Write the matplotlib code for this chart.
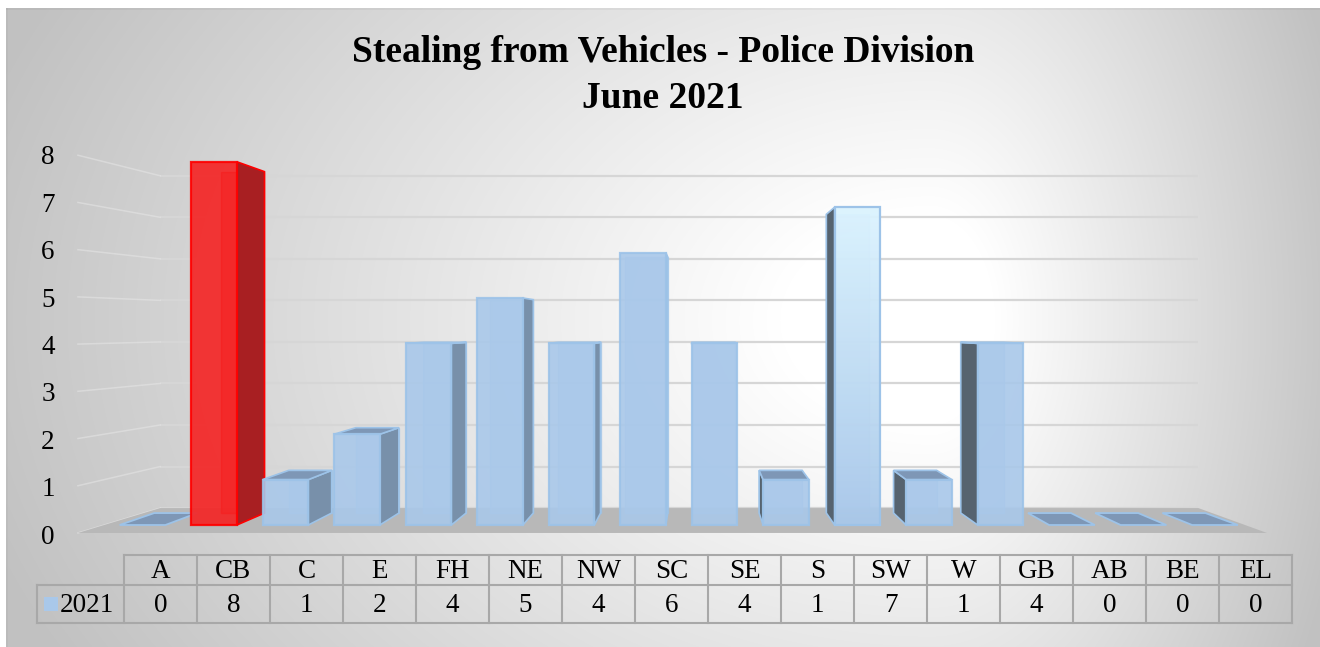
import numpy as np
import matplotlib
matplotlib.use('Agg')
import matplotlib.pyplot as plt
from matplotlib.patches import Polygon, Rectangle
from matplotlib.colors import LinearSegmentedColormap

# ---------------- data ----------------
categories = ['A', 'CB', 'C', 'E', 'FH', 'NE', 'NW', 'SC', 'SE', 'S', 'SW', 'W', 'GB', 'AB', 'BE', 'EL']
values_2021 = [0, 8, 1, 2, 4, 5, 4, 6, 4, 1, 7, 1, 4, 0, 0, 0]
series_name = '2021'
y_ticks = [0, 1, 2, 3, 4, 5, 6, 7, 8]
title_line1 = 'Stealing from Vehicles - Police Division'
title_line2 = 'June 2021'
highlight_category = 'CB'
light_category = 'SW'

# ---------------- styles / layout ----------------
FONT = 'Liberation Serif'
W_PX, H_PX = 1320, 647
X0_PX, DX_PX = 142.5, 71.5      # pixel of category 0, pixels per category
Y0_PX, DY_PX = 525.0, 45.4      # pixel of value 0 (front), pixels per unit
VX, VY = 7.75, 4.383            # vanishing point (data units)
S_BAR = 0.94                    # depth scale of bar backs
S_WALL = 0.915                  # depth scale of back wall
S_FRONT = 1.04                  # depth scale of floor front
BAR_W = 0.64
FLOOR_L, FLOOR_R = -0.45, 15.42
TXT = 19.5

BLUE_FRONT = '#a9c8ea'
BLUE_EDGE = '#9dc3e8'
BLUE_RSIDE = '#7890aa'
BLUE_LSIDE = '#56636f'
BLUE_TOP = '#7e97b6'
RED_FRONT = '#f52222'
RED_EDGE = '#ff0000'
RED_SIDE = '#a81f22'

fig = plt.figure(figsize=(W_PX / 100, H_PX / 100), dpi=100)

# ---------------- background ----------------
bg = fig.add_axes([0, 0, 1, 1])
bg.axis('off')
yy, xx = np.mgrid[0:H_PX, 0:W_PX].astype(float)
cx0, cy0 = 930.0, 320.0
rx = np.where(xx > cx0, 430.0, 1000.0)
r = np.sqrt(((xx - cx0) / rx) ** 2 + ((yy - cy0) / 700.0) ** 2)
t = np.clip((r - 0.15) / 0.85, 0, 1)
g = (255 - 62 * t) / 255.0
img = np.dstack([g, g, g])
img[8:10, 6:] *= 0.96
img[:, 6:8] *= 0.97
img[:8, :] = 1.0
img[:, :6] = 1.0
bg.imshow(img, extent=(0, W_PX, H_PX, 0), aspect='auto', interpolation='bilinear')
bg.set_xlim(0, W_PX)
bg.set_ylim(H_PX, 0)

# ---------------- main 3D-ish axes (data units) ----------------
ax = fig.add_axes([0, 0, 1, 1], facecolor='none')
ax.axis('off')
xlim = (-X0_PX / DX_PX, (W_PX - X0_PX) / DX_PX)
ylim = ((Y0_PX - H_PX) / DY_PX, Y0_PX / DY_PX)


def P(x, y, s):
    return (VX + s * (x - VX), VY + s * (y - VY))


z = [1]


def nz():
    z[0] += 1
    return z[0]


# back wall gridlines
for v in y_ticks:
    a, b = P(FLOOR_L, v, S_WALL), P(FLOOR_R, v, S_WALL)
    ax.plot([a[0], b[0]], [a[1], b[1]], color='#d6d6d6', lw=1.6, zorder=nz(),
            solid_capstyle='butt')
# side wall lines (faint)
for v in y_ticks:
    a, b = P(FLOOR_L, v, S_WALL), P(FLOOR_L - 0.12, v, S_FRONT)
    ax.plot([a[0], b[0]], [a[1], b[1]], color='#e6e6e6', lw=1.1, zorder=nz(), alpha=0.55)

# floor
floor = [P(FLOOR_L - 0.12, 0, S_FRONT), P(FLOOR_R, 0, S_FRONT), P(FLOOR_R, 0, S_WALL), P(FLOOR_L, 0, S_WALL)]
ax.add_patch(Polygon(floor, closed=True, facecolor='#b8b8b8', edgecolor='none', zorder=nz()))

# bars
for i, (cat, v) in enumerate(zip(categories, values_2021)):
    xl, xr = i - BAR_W / 2, i + BAR_W / 2
    red = (cat == highlight_category)
    front_c = RED_FRONT if red else BLUE_FRONT
    edge_c = RED_EDGE if red else BLUE_EDGE
    if v == 0:
        topf = [P(xl, 0, 1), P(xr, 0, 1), P(xr, 0, S_BAR), P(xl, 0, S_BAR)]
        ax.add_patch(Polygon(topf, closed=True, facecolor=BLUE_TOP, edgecolor=BLUE_EDGE,
                             lw=1.3, zorder=nz()))
        continue
    # back face (seen through)
    back = [P(xl, 0, S_BAR), P(xr, 0, S_BAR), P(xr, v, S_BAR), P(xl, v, S_BAR)]
    ax.add_patch(Polygon(back, closed=True, facecolor=front_c, edgecolor=edge_c,
                         lw=1.0, alpha=0.6, zorder=nz()))
    # side face
    if xr < VX:
        side = [P(xr, 0, 1), P(xr, v, 1), P(xr, v, S_BAR), P(xr, 0, S_BAR)]
        sc = RED_SIDE if red else BLUE_RSIDE
        ax.add_patch(Polygon(side, closed=True, facecolor=sc, edgecolor=edge_c,
                             lw=1.2, zorder=nz()))
    elif xl > VX:
        side = [P(xl, 0, 1), P(xl, v, 1), P(xl, v, S_BAR), P(xl, 0, S_BAR)]
        ax.add_patch(Polygon(side, closed=True, facecolor=BLUE_LSIDE, edgecolor=edge_c,
                             lw=1.2, zorder=nz()))
    # top face
    if v < VY:
        topf = [P(xl, v, 1), P(xr, v, 1), P(xr, v, S_BAR), P(xl, v, S_BAR)]
        ax.add_patch(Polygon(topf, closed=True, facecolor=BLUE_TOP, edgecolor=edge_c,
                             lw=1.2, zorder=nz()))
    # front face
    front = [(xl, 0), (xr, 0), (xr, v), (xl, v)]
    if cat == light_category:
        cmap = LinearSegmentedColormap.from_list('lt', [BLUE_FRONT, '#dcf4ff'])
        grad = np.linspace(0, 1, 256).reshape(-1, 1)
        fp = Polygon(front, closed=True, facecolor='none', edgecolor=edge_c, lw=1.6, zorder=z[0] + 2)
        im = ax.imshow(grad, extent=(xl, xr, 0, v), origin='lower', aspect='auto',
                       cmap=cmap, zorder=nz(), alpha=0.95)
        ax.add_patch(fp)
        im.set_clip_path(fp)
        nz()
    else:
        ax.add_patch(Polygon(front, closed=True, facecolor=front_c, edgecolor=edge_c,
                             lw=1.6, alpha=0.9, zorder=nz()))

ax.set_xlim(*xlim)
ax.set_ylim(*ylim)

# ---------------- value axis labels ----------------
lab_top_px, lab_bot_px = 155.0, 534.0
lab = fig.add_axes([59 / W_PX, (H_PX - lab_bot_px) / H_PX, 2 / W_PX, (lab_bot_px - lab_top_px) / H_PX],
                   facecolor='none')
lab.set_ylim(y_ticks[0], y_ticks[-1])
lab.set_yticks(y_ticks)
lab.set_yticklabels([str(v) for v in y_ticks], fontsize=TXT, family=FONT)
lab.tick_params(axis='y', length=0, pad=3)
lab.set_xticks([])
for sp in lab.spines.values():
    sp.set_visible(False)

# ---------------- title ----------------
fig.text(663 / W_PX, 1 - 53 / H_PX, title_line1, ha='center', va='center',
         fontsize=27, fontweight='bold', family=FONT)
fig.text(663 / W_PX, 1 - 98 / H_PX, title_line2, ha='center', va='center',
         fontsize=27, fontweight='bold', family=FONT)

# ---------------- data table ----------------
tab = fig.add_axes([0, 0, 1, 1], facecolor='none')
tab.axis('off')
tab.set_xlim(0, W_PX)
tab.set_ylim(H_PX, 0)
LBL_L, COL0, COL_W = 37, 124, 73
R_TOP, R_MID, R_BOT = 555, 585, 623
n = len(categories)
right = COL0 + COL_W * n
lc, lw = '#a8a8a8', 1.5
tab.plot([COL0, right], [R_TOP, R_TOP], color=lc, lw=lw)
tab.plot([LBL_L, right], [R_MID, R_MID], color=lc, lw=lw)
tab.plot([LBL_L, right], [R_BOT, R_BOT], color=lc, lw=lw)
tab.plot([LBL_L, LBL_L], [R_MID, R_BOT], color=lc, lw=lw)
for j in range(n + 1):
    xj = COL0 + COL_W * j
    tab.plot([xj, xj], [R_TOP, R_BOT], color=lc, lw=lw)
for j, (cat, v) in enumerate(zip(categories, values_2021)):
    cx = COL0 + COL_W * (j + 0.5)
    tab.text(cx, (R_TOP + R_MID) / 2 + 1, cat, ha='center', va='center', fontsize=TXT, family=FONT)
    tab.text(cx, (R_MID + R_BOT) / 2 + 1, str(v), ha='center', va='center', fontsize=TXT, family=FONT)
tab.add_patch(Rectangle((44, 597), 14, 14, facecolor=BLUE_FRONT, edgecolor='none'))
tab.text(60, (R_MID + R_BOT) / 2 + 1, series_name, ha='left', va='center', fontsize=TXT, family=FONT)

fig.savefig('out.png', dpi=100)
